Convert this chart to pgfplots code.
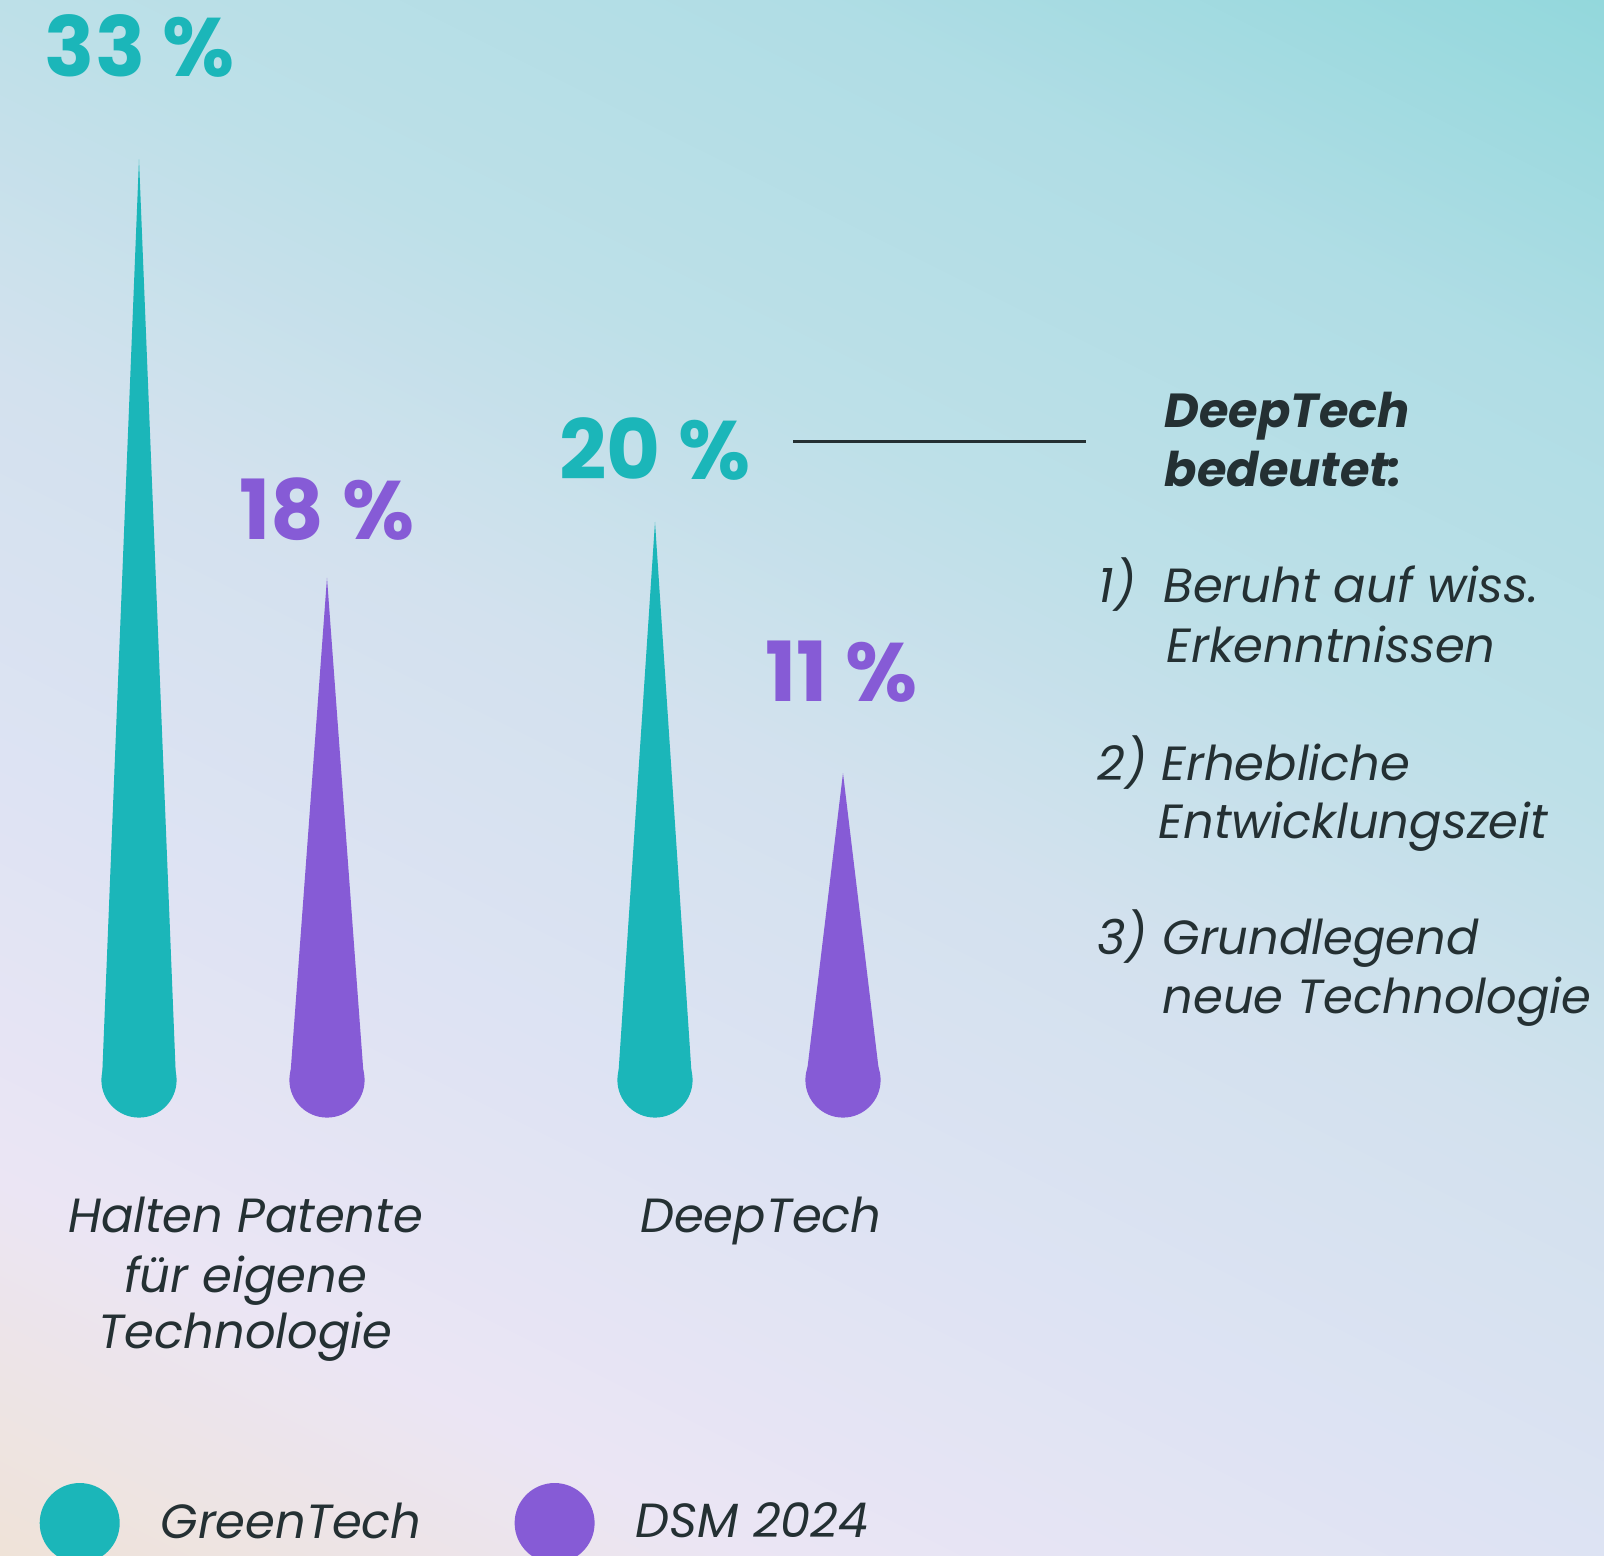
\documentclass[border=0pt]{standalone}
\usepackage{fontspec}
\setmainfont{Poppins}
\usepackage{pgfplots}
\pgfplotsset{compat=1.18}
\usepackage{pgfplotstable}

\definecolor{gteal}{HTML}{1BB6B9}
\definecolor{dpurple}{HTML}{865BD6}
\definecolor{ink}{HTML}{243033}
\definecolor{bgA}{HTML}{EFE3D8}
\definecolor{bgB}{HTML}{EBE5F4}
\definecolor{bgC}{HTML}{DDE3F3}
\definecolor{bgD}{HTML}{D3E1EE}
\definecolor{bgE}{HTML}{BDE0E8}
\definecolor{bgF}{HTML}{B0DDE5}
\definecolor{bgG}{HTML}{93D8DC}
\pgfdeclarehorizontalshading{bgshade}{100bp}{color(0bp)=(bgA); color(16.4bp)=(bgA); color(27bp)=(bgB); color(39.2bp)=(bgC); color(50bp)=(bgD); color(60.8bp)=(bgE); color(72.2bp)=(bgF); color(83.6bp)=(bgG); color(100bp)=(bgG)}

\newcommand{\bodyfont}{\fontsize{13.65pt}{16pt}\selectfont\itshape}
\newcommand{\headfont}{\fontsize{13.6pt}{16pt}\selectfont\bfseries\itshape}
\newcommand{\bigfont}{\fontsize{23.6pt}{28pt}\selectfont\bfseries}

\pgfplotstableread{
x val
139 33
655 20
}\greentab
\pgfplotstableread{
x val
327 18
843 11
}\dsmtab

\begin{document}
\begin{tikzpicture}
\shade[shading=bgshade, shading angle=63.5] (0,0) rectangle (16.04cm,15.56cm);
\begin{axis}[
  at={(0,0)}, anchor=south west,
  scale only axis, width=16.04cm, height=15.56cm,
  xmin=0, xmax=1604, ymin=-17.061, ymax=38.710,
  hide axis, clip=false,
  legend image code/.code={\fill[#1] (0.4cm,0cm) circle (0.4cm);},
  legend style={at={(axis cs:39,-15.88)}, anchor=west, draw=none, fill=none,
    legend columns=-1, inner sep=0pt, font=\bodyfont, text=ink,
    nodes={inner sep=0pt},
    /tikz/every odd column/.append style={column sep=0.41cm},
    /tikz/every even column/.append style={column sep=0.93cm}},
]
% spikes GreenTech
\addplot[fill=gteal, draw=none, forget plot] coordinates {(102,0) (139,33) (176,0)} -- cycle;
\addplot[fill=gteal, draw=none, forget plot] coordinates {(618,0) (655,20) (692,0)} -- cycle;
\addplot[only marks, mark=*, mark size=10.5pt, color=gteal, mark options={draw=none, fill=gteal}, forget plot] table[x=x, y expr=0] {\greentab};
% spikes DSM 2024
\addplot[fill=dpurple, draw=none, forget plot] coordinates {(290,0) (327,18) (364,0)} -- cycle;
\addplot[fill=dpurple, draw=none, forget plot] coordinates {(806,0) (843,11) (880,0)} -- cycle;
\addplot[only marks, mark=*, mark size=10.5pt, color=dpurple, mark options={draw=none, fill=dpurple}, forget plot] table[x=x, y expr=0] {\dsmtab};

\addlegendimage{fill=gteal, draw=none}
\addlegendentry{GreenTech}
\addlegendimage{fill=dpurple, draw=none}
\addlegendentry{DSM 2024}

% value labels
\node[anchor=base, inner sep=0pt, text=gteal, font=\bigfont] at (axis cs:140,35.95) {33 \%};
\node[anchor=base, inner sep=0pt, text=dpurple, font=\bigfont] at (axis cs:327,19.39) {18 \%};
\node[anchor=base, inner sep=0pt, text=gteal, font=\bigfont] at (axis cs:655,21.54) {20 \%};
\node[anchor=base, inner sep=0pt, text=dpurple, font=\bigfont] at (axis cs:841.5,13.58) {11 \%};

% category labels
\node[anchor=base, inner sep=0pt, text=ink, font=\bodyfont] at (axis cs:245.5,-5.48) {Halten Patente};
\node[anchor=base, inner sep=0pt, text=ink, font=\bodyfont] at (axis cs:245.5,-7.60) {für eigene};
\node[anchor=base, inner sep=0pt, text=ink, font=\bodyfont] at (axis cs:245.5,-9.61) {Technologie};
\node[anchor=base, inner sep=0pt, text=ink, font=\bodyfont] at (axis cs:761,-5.48) {DeepTech};

% connector line
\draw[ink, line width=0.85pt] (axis cs:793,22.88) -- (axis cs:1086,22.88);

% side text
\node[anchor=base west, inner sep=0pt, text=ink, font=\headfont] at (axis cs:1164,23.37) {DeepTech};
\node[anchor=base west, inner sep=0pt, text=ink, font=\headfont] at (axis cs:1164,21.27) {bedeutet:};

\node[anchor=base west, inner sep=0pt, text=ink, font=\bodyfont] at (axis cs:1098,17.10) {1)};
\node[anchor=base west, inner sep=0pt, text=ink, font=\bodyfont] at (axis cs:1163,17.10) {Beruht auf wiss.};
\node[anchor=base west, inner sep=0pt, text=ink, font=\bodyfont] at (axis cs:1166,14.95) {Erkenntnissen};

\node[anchor=base west, inner sep=0pt, text=ink, font=\bodyfont] at (axis cs:1097,10.72) {2)};
\node[anchor=base west, inner sep=0pt, text=ink, font=\bodyfont] at (axis cs:1161,10.72) {Erhebliche};
\node[anchor=base west, inner sep=0pt, text=ink, font=\bodyfont] at (axis cs:1158,8.67) {Entwicklungszeit};

\node[anchor=base west, inner sep=0pt, text=ink, font=\bodyfont] at (axis cs:1097,4.48) {3)};
\node[anchor=base west, inner sep=0pt, text=ink, font=\bodyfont] at (axis cs:1162,4.48) {Grundlegend};
\node[anchor=base west, inner sep=0pt, text=ink, font=\bodyfont] at (axis cs:1162,2.37) {neue Technologie};
\end{axis}
\pgfresetboundingbox
\path[use as bounding box] (0,0) rectangle (16.04cm,15.56cm);
\end{tikzpicture}
\end{document}
